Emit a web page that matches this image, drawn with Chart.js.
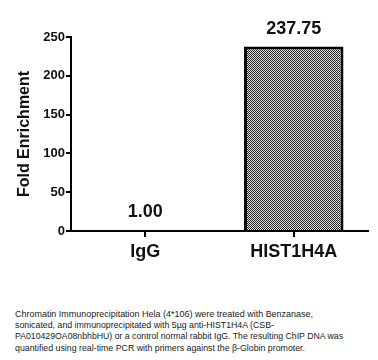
<!DOCTYPE html>
<html>
<head>
<meta charset="utf-8">
<script src="https://cdn.jsdelivr.net/npm/chart.js@4"></script>
<style>
  html, body { margin: 0; padding: 0; background: #fff; }
  #wrap { position: relative; width: 378px; height: 360px; overflow: hidden; }
  #chart { position: absolute; left: 0; top: 0; }
  #caption {
    position: absolute; left: 15px; top: 308px; width: 363px;
    font-family: "Liberation Sans", Arial, sans-serif; font-size: 9.5px;
    line-height: 11.2px; color: #1a1a1a;
  }
  #caption div { white-space: nowrap; transform-origin: 0 50%; width: max-content; }
</style>
</head>
<body>
<div id="wrap">
  <canvas id="chart" width="378" height="280"></canvas>
  <div id="caption">
    <div data-w="298">Chromatin Immunoprecipitation Hela (4*106) were treated with Benzanase,</div>
    <div data-w="259">sonicated, and immunoprecipitated with 5µg anti-HIST1H4A (CSB-</div>
    <div data-w="328">PA010429OA08nbhbHU) or a control normal rabbit IgG. The resulting ChIP DNA was</div>
    <div data-w="290">quantified using real-time PCR with primers against the β-Globin promoter.</div>
  </div>
</div>
<script>
// Samples and their fold enrichment
const categories = ['IgG', 'HIST1H4A'];
const foldEnrichment = [1.00, 237.75];
const yTicks = [0, 50, 100, 150, 200, 250];

// Fit each caption line to its set width
document.querySelectorAll('#caption div').forEach(line => {
  const natural = line.getBoundingClientRect().width;
  const target = parseFloat(line.dataset.w);
  line.style.transform = 'scaleX(' + (target / natural).toFixed(4) + ')';
});

// Fine black/white checker fill
function checkerPattern() {
  const c = document.createElement('canvas');
  c.width = 2; c.height = 2;
  const g = c.getContext('2d');
  g.fillStyle = '#e0e0e0';
  g.fillRect(0, 0, 2, 2);
  g.fillStyle = '#262626';
  g.fillRect(0, 0, 1, 1);
  g.fillRect(1, 1, 1, 1);
  return g.createPattern(c, 'repeat');
}

// Value labels above each bar
const valueLabels = {
  id: 'valueLabels',
  afterDatasetsDraw(chart) {
    const ctx = chart.ctx;
    const meta = chart.getDatasetMeta(0);
    ctx.save();
    ctx.font = 'bold 18px "Liberation Sans", Arial, sans-serif';
    ctx.fillStyle = '#111';
    ctx.textAlign = 'center';
    ctx.textBaseline = 'alphabetic';
    meta.data.forEach((bar, i) => {
      ctx.fillText(foldEnrichment[i].toFixed(2), bar.x, bar.y - 13);
    });
    ctx.restore();
  }
};

const axisFont = '"Liberation Sans", Arial, sans-serif';

new Chart(document.getElementById('chart'), {
  type: 'bar',
  data: {
    labels: categories,
    datasets: [{
      data: foldEnrichment,
      backgroundColor: checkerPattern(),
      borderColor: '#000',
      borderWidth: 3,
      categoryPercentage: 1,
      barPercentage: 0.67
    }]
  },
  options: {
    responsive: false,
    animation: false,
    devicePixelRatio: 1,
    layout: { padding: { top: 37, right: 10, left: 0, bottom: 0 } },
    plugins: { legend: { display: false }, tooltip: { enabled: false } },
    scales: {
      x: {
        offset: true,
        grid: { display: true, drawOnChartArea: false, drawTicks: true, tickLength: 6, color: '#000', lineWidth: 2, offset: false },
        border: { display: true, color: '#000', width: 2 },
        ticks: { color: '#111', font: { family: axisFont, size: 18, weight: 'bold' }, padding: 4 },
        afterFit(scale) { scale.height = 49; }
      },
      y: {
        min: 0,
        max: 250,
        afterBuildTicks(scale) { scale.ticks = yTicks.map(v => ({ value: v })); },
        grid: { display: true, drawOnChartArea: false, drawTicks: true, tickLength: 5, color: '#000', lineWidth: 2 },
        border: { display: true, color: '#000', width: 2 },
        ticks: { color: '#111', font: { family: axisFont, size: 13, weight: 'bold' }, padding: 1 },
        title: { display: true, text: 'Fold Enrichment', color: '#111', font: { family: axisFont, size: 16, weight: 'bold' }, padding: { top: 15, bottom: 0 } },
        afterFit(scale) { scale.width = 71; }
      }
    }
  },
  plugins: [valueLabels]
});
</script>
</body>
</html>
